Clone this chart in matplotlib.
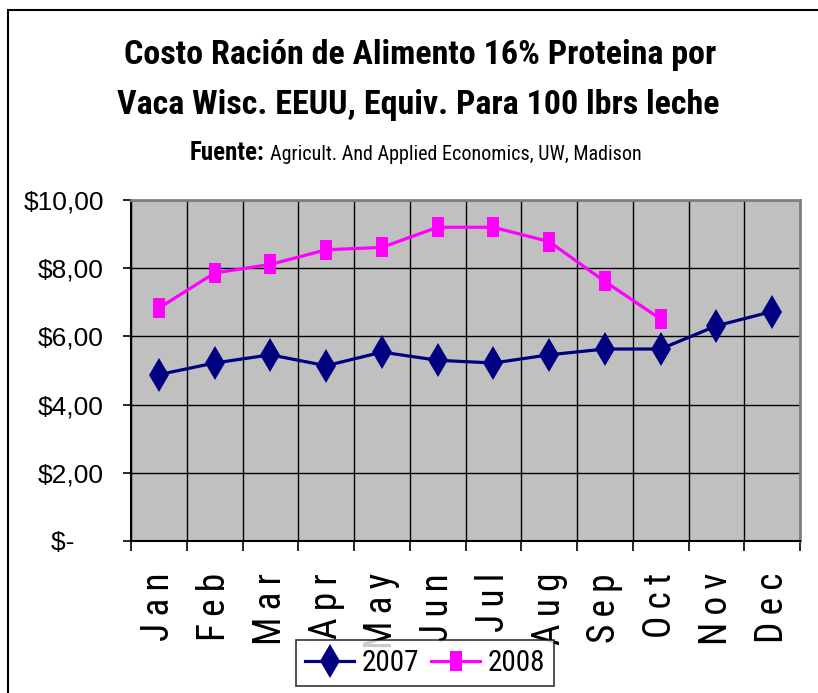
import numpy as np
import matplotlib
matplotlib.use('Agg')
import matplotlib.pyplot as plt
from matplotlib.patches import Rectangle

months = ['Jan', 'Feb', 'Mar', 'Apr', 'May', 'Jun', 'Jul', 'Aug', 'Sep', 'Oct', 'Nov', 'Dec']
cost_2007 = [4.88, 5.22, 5.46, 5.14, 5.54, 5.30, 5.22, 5.46, 5.63, 5.63, 6.31, 6.73]
cost_2008 = [6.83, 7.86, 8.11, 8.54, 8.61, 9.20, 9.20, 8.78, 7.61, 6.51]
ytick_vals = [0, 2, 4, 6, 8, 10]
ytick_labels = ['$-    ', '$2,00', '$4,00', '$6,00', '$8,00', '$10,00']

narrow = ['Roboto Condensed', 'Liberation Sans', 'DejaVu Sans']
arial = ['Liberation Sans', 'DejaVu Sans']

fig = plt.figure(figsize=(8.18, 6.93), dpi=100)
ax = fig.add_axes([131/818, 1 - 541/693, 669/818, 341/693])
ax.set_facecolor('#C0C0C0')

# outer chart frame (only left and top visible)
fig.add_artist(Rectangle((8/818, -0.1), 1.2, 1 - 10/693 + 0.1, transform=fig.transFigure,
                         fill=False, edgecolor='black', linewidth=1.5))

x = np.arange(len(months))
box = np.array([[-0.62, -1], [0.62, -1], [0.62, 1], [-0.62, 1], [-0.62, -1]])
ax.plot(x, cost_2007, color='#000080', linewidth=2.3, marker='d', markersize=17,
        markeredgewidth=0, label='2007', zorder=3)
ax.plot(x[:len(cost_2008)], cost_2008, color='#FF00FF', linewidth=2.3, marker=box, markersize=14,
        markeredgewidth=0, label='2008', zorder=3)

ax.set_xlim(-0.5, len(months) - 0.5)
ax.set_ylim(0, 10)
ax.set_xticks(np.arange(-0.5, len(months), 1))
ax.set_xticklabels([])
ax.set_xticks(x, minor=True)
ax.set_xticklabels(['\u2009'.join(m) for m in months], minor=True, rotation=90,
                   fontsize=27, family=narrow)
ax.tick_params(axis='x', which='minor', length=0, pad=23)
ax.tick_params(axis='x', which='major', length=7, width=1.2, direction='out')
ax.set_yticks(ytick_vals)
ax.set_yticklabels(ytick_labels, fontsize=19, family=arial)
ax.tick_params(axis='y', length=6, width=1.2, direction='out', pad=13.5)

ax.grid(True, which='major', color='black', linewidth=1)
ax.set_axisbelow(True)
for s in ['top', 'right']:
    ax.spines[s].set_color('#808080')
    ax.spines[s].set_linewidth(2)
for s in ['left', 'bottom']:
    ax.spines[s].set_color('black')
    ax.spines[s].set_linewidth(1.5)

fig.text(420/818, 1 - 55/693, 'Costo Ración de Alimento 16% Proteina por', ha='center', va='center',
         fontsize=24.5, fontweight='bold', family=narrow)
fig.text(418/818, 1 - 105/693, 'Vaca Wisc. EEUU, Equiv. Para 100 lbrs leche', ha='center', va='center',
         fontsize=24.5, fontweight='bold', family=narrow)
fig.text(190/818, 1 - 153/693, 'Fuente:', ha='left', va='center',
         fontsize=18, fontweight='bold', family=narrow)
fig.text(270/818, 1 - 155/693, 'Agricult. And Applied Economics, UW, Madison', ha='left', va='center',
         fontsize=14.5, family=narrow)

leg = fig.legend(loc='upper left', bbox_to_anchor=(296/818, 1 - 640/693), ncol=2,
                 prop={'family': narrow, 'size': 21}, frameon=True, fancybox=False,
                 edgecolor='black', handlelength=1.7, columnspacing=0.4, handletextpad=0.25,
                 borderpad=0.3, borderaxespad=0)
leg.get_frame().set_linewidth(1.2)

fig.savefig('out.png', dpi=100)
